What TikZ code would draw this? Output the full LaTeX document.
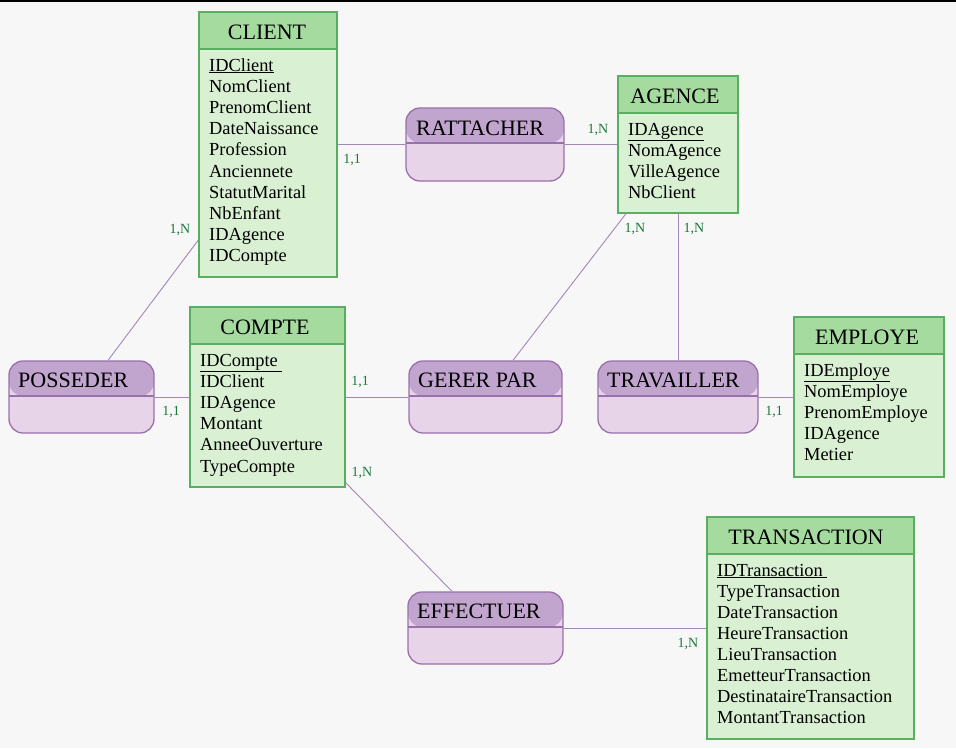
\documentclass[tikz,border=0pt]{standalone}
\usepackage{fontspec}
\setmainfont{Liberation Serif}
\definecolor{bg}{HTML}{F7F7F7}
\definecolor{enthd}{HTML}{A6DBA0}
\definecolor{entbd}{HTML}{D9F0D3}
\definecolor{entln}{HTML}{5AAE61}
\definecolor{relhd}{HTML}{C2A5CF}
\definecolor{relbd}{HTML}{E7D4E8}
\definecolor{relln}{HTML}{9970AB}
\definecolor{conn}{HTML}{A386B8}
\definecolor{card}{HTML}{1B7837}
\begin{document}
\begin{tikzpicture}[x=1pt,y=-1pt,
  entity/.style={draw=entln, line width=1.3pt, fill=entbd, inner sep=0pt,
    path picture={\fill[enthd] (path picture bounding box.north west) rectangle ([yshift=-37pt]path picture bounding box.north east);
      \draw[entln, line width=1.3pt] ([yshift=-37pt]path picture bounding box.north west) -- ([yshift=-37pt]path picture bounding box.north east);}},
  relation/.style={draw=relln, line width=1.3pt, fill=relbd, inner sep=0pt, rounded corners=14pt,
    path picture={\fill[relhd] (path picture bounding box.north west) rectangle ([yshift=-35pt]path picture bounding box.north east);
      \draw[relln, line width=1.3pt] ([yshift=-35pt]path picture bounding box.north west) -- ([yshift=-35pt]path picture bounding box.north east);}},
  ettitle/.style={font=\fontsize{22}{26}\selectfont, inner sep=0pt},
  rtitle/.style={font=\fontsize{22}{26}\selectfont, inner sep=0pt, anchor=west},
  attr/.style={font=\fontsize{18.4}{21}\selectfont, inner sep=0pt, anchor=base west},
  cardlbl/.style={font=\fontsize{14}{16}\selectfont, text=card, inner sep=0pt},
  link/.style={draw=conn, line width=0.9pt}]
\useasboundingbox (0,0) rectangle (956,748);
\fill[bg] (0,0) rectangle (956,748);
\fill[black] (0,0) rectangle (956,1.5);

% Entities
\node[entity, minimum width=138pt, minimum height=265pt] (client) at (268,144.5) {};
\node[ettitle] (client-t) at (267,32) {CLIENT};
\foreach \a [count=\i] in {\underline{IDClient},NomClient,PrenomClient,DateNaissance,Profession,Anciennete,StatutMarital,NbEnfant,IDAgence,IDCompte}
  \node[attr] (client-a\i) at (209,{71+21.2*(\i-1)}) {\a};

\node[entity, minimum width=120pt, minimum height=137pt] (agence) at (678,144.5) {};
\node[ettitle] (agence-t) at (675,96) {AGENCE};
\foreach \a [count=\i] in {\underline{IDAgence},NomAgence,VilleAgence,NbClient}
  \node[attr] (agence-a\i) at (628,{135+21.2*(\i-1)}) {\a};

\node[entity, minimum width=155pt, minimum height=180pt] (compte) at (267.5,397) {};
\node[ettitle] (compte-t) at (265,327) {COMPTE};
\foreach \a [count=\i] in {\underline{IDCompte\ },IDClient,IDAgence,Montant,AnneeOuverture,TypeCompte}
  \node[attr] (compte-a\i) at (200,{366+21.2*(\i-1)}) {\a};

\node[entity, minimum width=150pt, minimum height=160pt] (employe) at (869,397) {};
\node[ettitle] (employe-t) at (867,337) {EMPLOYE};
\foreach \a [count=\i] in {\underline{IDEmploye},NomEmploye,PrenomEmploye,IDAgence,Metier}
  \node[attr] (employe-a\i) at (804,{376+21.2*(\i-1)}) {\a};

\node[entity, minimum width=207pt, minimum height=222pt] (transaction) at (810.5,628) {};
\node[ettitle] (transaction-t) at (806,537) {TRANSACTION};
\foreach \a [count=\i] in {\underline{IDTransaction\ },TypeTransaction,DateTransaction,HeureTransaction,LieuTransaction,EmetteurTransaction,DestinataireTransaction,MontantTransaction}
  \node[attr] (transaction-a\i) at (717,{576+21.14*(\i-1)}) {\a};

% Relations
\node[relation, minimum width=158pt, minimum height=73pt] (rattacher) at (485,144.5) {};
\node[rtitle] (rattacher-t) at (416,128) {RATTACHER};
\node[relation, minimum width=145pt, minimum height=72pt] (posseder) at (81.5,397) {};
\node[rtitle] (posseder-t) at (18,380.5) {POSSEDER};
\node[relation, minimum width=153pt, minimum height=72pt] (gerer) at (485.5,397) {};
\node[rtitle] (gerer-t) at (418,380.5) {GERER PAR};
\node[relation, minimum width=160pt, minimum height=72pt] (travailler) at (678,397) {};
\node[rtitle] (travailler-t) at (607,380.5) {TRAVAILLER};
\node[relation, minimum width=155pt, minimum height=72pt] (effectuer) at (485.5,628) {};
\node[rtitle] (effectuer-t) at (417,611.5) {EFFECTUER};

% Connectors
\draw[link] (client.east |- rattacher.west) -- (rattacher.west);
\draw[link] (rattacher.east) -- (rattacher.east -| agence.west);
\draw[link] ([yshift=-95.5pt]client.west) -- ([xshift=26.5pt]posseder.north);
\draw[link] (posseder.east) -- (posseder.east -| compte.west);
\draw[link] (compte.east |- gerer.west) -- (gerer.west);
\draw[link] ([xshift=27.5pt]gerer.north) -- ([xshift=-52pt]agence.south);
\draw[link] (agence.south) -- (travailler.north);
\draw[link] (travailler.east) -- (travailler.east -| employe.west);
\draw[link] ([yshift=5pt]compte.south east) -- ([xshift=-33.5pt]effectuer.north);
\draw[link] (effectuer.east) -- (effectuer.east -| transaction.west);

% Cardinalities
\node[cardlbl] (c1) at (352,160) {1,1};
\node[cardlbl] (c2) at (598,130) {1,N};
\node[cardlbl] (c3) at (180,230) {1,N};
\node[cardlbl] (c4) at (171,412) {1,1};
\node[cardlbl] (c5) at (360,382) {1,1};
\node[cardlbl] (c6) at (635,229) {1,N};
\node[cardlbl] (c7) at (694,229) {1,N};
\node[cardlbl] (c8) at (774,412) {1,1};
\node[cardlbl] (c9) at (362,473) {1,N};
\node[cardlbl] (c10) at (688,644) {1,N};
\end{tikzpicture}
\end{document}
